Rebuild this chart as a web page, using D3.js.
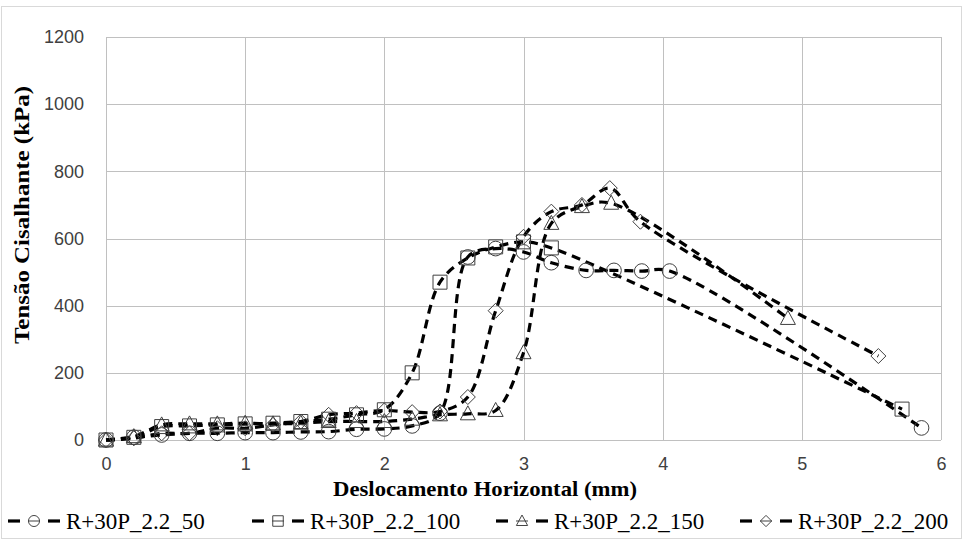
<!DOCTYPE html>
<html>
<head>
<meta charset="utf-8">
<script src="https://cdn.jsdelivr.net/npm/d3@7"></script>
<style>
  html, body { margin: 0; padding: 0; background: #fff; }
  svg { display: block; }
</style>
</head>
<body>
<svg id="chart" width="964" height="540"></svg>
<script>
// Shear stress vs horizontal displacement, four test series
const seriesNames = ["R+30P_2.2_50", "R+30P_2.2_100", "R+30P_2.2_150", "R+30P_2.2_200"];
const markerTypes = ["circle", "square", "triangle", "diamond"];

const x50 = [0, 0.2, 0.4, 0.6, 0.8, 1.0, 1.2, 1.4, 1.6, 1.8, 2.0, 2.2, 2.4, 2.6, 2.8, 3.0, 3.2, 3.45, 3.65, 3.85, 4.05, 5.86];
const y50 = [0, 8, 15, 20, 20, 22, 22, 24, 25, 32, 33, 42, 80, 545, 570, 560, 528, 505, 505, 503, 503, 36];

const x100 = [0, 0.2, 0.4, 0.6, 0.8, 1.0, 1.2, 1.4, 1.6, 1.8, 2.0, 2.2, 2.4, 2.6, 2.8, 3.0, 3.2, 5.72];
const y100 = [0, 8, 40, 42, 45, 48, 50, 55, 62, 75, 90, 200, 470, 542, 575, 590, 572, 92];

const x150 = [0, 0.2, 0.4, 0.6, 0.8, 1.0, 1.2, 1.4, 1.6, 1.8, 2.0, 2.2, 2.4, 2.6, 2.8, 3.0, 3.2, 3.42, 3.63, 4.9];
const y150 = [0, 10, 45, 48, 48, 50, 48, 50, 55, 55, 55, 62, 75, 78, 88, 260, 645, 695, 705, 362];

const x200 = [0, 0.2, 0.4, 0.6, 0.8, 1.0, 1.2, 1.4, 1.6, 1.8, 2.0, 2.2, 2.4, 2.6, 2.8, 3.0, 3.2, 3.42, 3.62, 3.84, 5.55];
const y200 = [0, 5, 20, 20, 35, 35, 45, 55, 75, 80, 88, 83, 85, 128, 385, 605, 680, 700, 750, 650, 250];

const xTicks = [0, 1, 2, 3, 4, 5, 6];
const yTicks = [0, 200, 400, 600, 800, 1000, 1200];

const xTitle = "Deslocamento Horizontal (mm)";
const yTitle = "Tensão Cisalhante (kPa)";

const seriesX = [x50, x100, x150, x200];
const seriesY = [y50, y100, y150, y200];
const data = seriesNames.map((name, i) => ({
  name,
  marker: markerTypes[i],
  points: seriesX[i].map((xv, j) => ({ x: xv, y: seriesY[i][j] }))
}));

const svg = d3.select("#chart");
const plot = { left: 106, right: 941, top: 37, bottom: 440 };

const x = d3.scaleLinear().domain([0, 6]).range([plot.left, plot.right]);
const y = d3.scaleLinear().domain([0, 1200]).range([plot.bottom, plot.top]);

// chart frame
svg.append("rect")
  .attr("x", 1.5).attr("y", 6.5).attr("width", 960).attr("height", 532)
  .attr("fill", "#fff").attr("stroke", "#d9d9d9").attr("stroke-width", 1);

// gridlines
const grid = svg.append("g").attr("stroke", "#c0c0c0").attr("stroke-width", 1).attr("shape-rendering", "crispEdges");
grid.selectAll("line.h").data(yTicks).join("line")
  .attr("x1", plot.left).attr("x2", plot.right)
  .attr("y1", d => Math.round(y(d)) + 0.5).attr("y2", d => Math.round(y(d)) + 0.5);
grid.selectAll("line.v").data(xTicks).join("line")
  .attr("y1", plot.top).attr("y2", plot.bottom)
  .attr("x1", d => Math.round(x(d)) + 0.5).attr("x2", d => Math.round(x(d)) + 0.5);

// tick labels
const tickFont = "'Liberation Sans', Arial, sans-serif";
const yAxis = svg.append("g").attr("transform", `translate(${plot.left},0)`)
  .call(d3.axisLeft(y).tickValues(yTicks).tickSize(0).tickPadding(22).tickFormat(d3.format("d")));
yAxis.select(".domain").remove();
yAxis.selectAll("text").attr("font-family", tickFont).attr("font-size", 18).attr("fill", "#404040");

const xAxis = svg.append("g").attr("transform", `translate(0,${plot.bottom})`)
  .call(d3.axisBottom(x).tickValues(xTicks).tickSize(0).tickPadding(17).tickFormat(d3.format("d")));
xAxis.select(".domain").remove();
xAxis.selectAll("text").attr("font-family", tickFont).attr("font-size", 18).attr("fill", "#404040");

// axis titles
const titleFont = "'Liberation Serif', 'Times New Roman', serif";
svg.append("text")
  .attr("x", 485).attr("y", 496)
  .attr("text-anchor", "middle")
  .attr("font-family", titleFont).attr("font-weight", "bold").attr("font-size", 22)
  .attr("textLength", 304).attr("lengthAdjust", "spacingAndGlyphs")
  .text(xTitle);
svg.append("text")
  .attr("transform", "translate(29,215) rotate(-90)")
  .attr("text-anchor", "middle")
  .attr("font-family", titleFont).attr("font-weight", "bold").attr("font-size", 22)
  .attr("textLength", 258).attr("lengthAdjust", "spacingAndGlyphs")
  .text(yTitle);

// marker shapes
function markerPath(type) {
  switch (type) {
    case "circle": return d3.symbol(d3.symbolCircle, 170)();
    case "square": return "M-7,-7H7V7H-7Z";
    case "triangle": return "M0,-8L7.5,6H-7.5Z";
    case "diamond": return "M0,-7.5L7.5,0L0,7.5L-7.5,0Z";
  }
}

const line = d3.line().x(d => x(d.x)).y(d => y(d.y)).curve(d3.curveCatmullRom.alpha(0.5));

const gSeries = svg.append("g");
data.forEach(s => {
  gSeries.append("path")
    .attr("d", line(s.points))
    .attr("fill", "none")
    .attr("stroke", "#000")
    .attr("stroke-width", 3.2)
    .attr("stroke-dasharray", "9,6");
});
data.forEach(s => {
  gSeries.append("g").selectAll("path").data(s.points).join("path")
    .attr("transform", d => `translate(${x(d.x)},${y(d.y)})`)
    .attr("d", markerPath(s.marker))
    .attr("fill", "none")
    .attr("stroke", "#404040")
    .attr("stroke-width", 1);
});

// legend
const legendX = [8, 252, 496, 740];
const legendY = 521;
const legend = svg.append("g");
data.forEach((s, i) => {
  const g = legend.append("g").attr("transform", `translate(${legendX[i]},${legendY})`);
  g.append("line").attr("x1", 0).attr("x2", 12).attr("y1", 0).attr("y2", 0)
    .attr("stroke", "#000").attr("stroke-width", 3.2);
  g.append("line").attr("x1", 40).attr("x2", 52).attr("y1", 0).attr("y2", 0)
    .attr("stroke", "#000").attr("stroke-width", 3.2);
  g.append("path").attr("transform", "translate(26,0) scale(0.75)")
    .attr("d", markerPath(s.marker))
    .attr("fill", "none").attr("stroke", "#404040").attr("stroke-width", 1.3);
  g.append("line").attr("x1", 20).attr("x2", 32).attr("y1", 0).attr("y2", 0)
    .attr("stroke", "#404040").attr("stroke-width", 1);
  g.append("text")
    .attr("x", 58).attr("y", 8)
    .attr("font-family", titleFont).attr("font-size", 23).attr("fill", "#000")
    .text(s.name);
});
</script>
</body>
</html>
